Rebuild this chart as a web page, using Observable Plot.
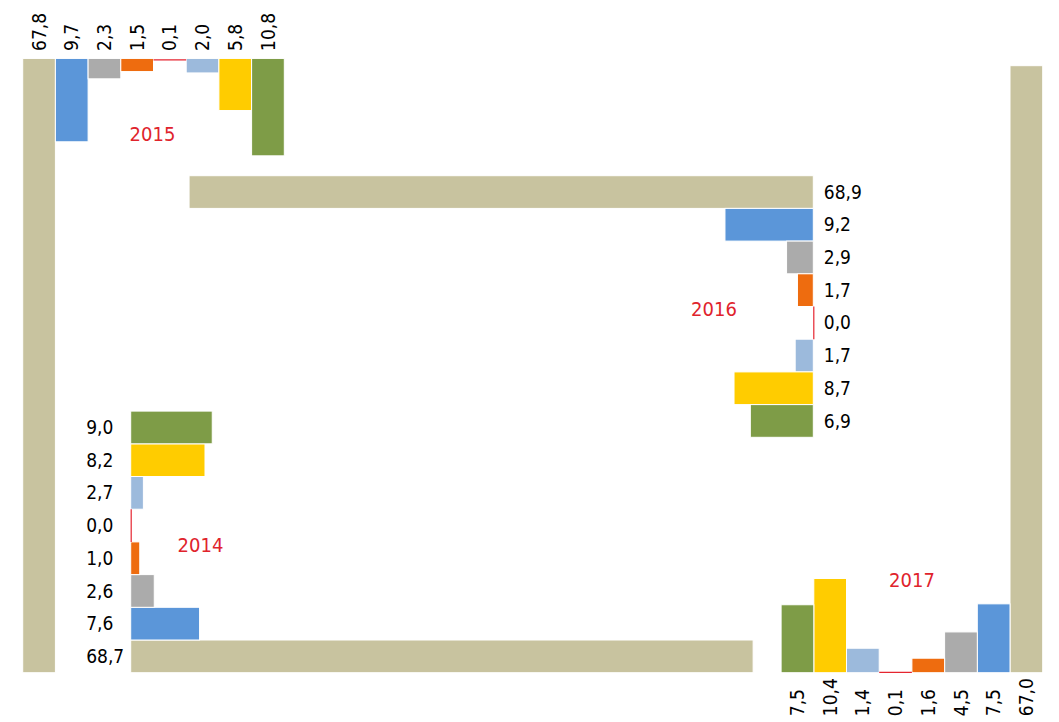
<!DOCTYPE html>
<html><head><meta charset="utf-8">
<script src="https://cdn.jsdelivr.net/npm/d3@7"></script>
<script src="https://cdn.jsdelivr.net/npm/@observablehq/plot@0.6"></script>
<style>html,body{margin:0;padding:0;background:#fff;} #chart svg{display:block}</style>
</head><body><div id="chart"></div>
<script>
// ---- data ----
const series = ["total","blue","gray","orange","red","lightblue","yellow","green"];
const colors = ["#C8C39F","#5B96D9","#ABABAB","#EE6C0F","#E52530","#9CBADC","#FFCC00","#7E9C47"];
const years = ["2014","2015","2016","2017"];
// bar lengths as drawn (percentage points)
const values2014 = [68.7, 7.6, 2.6, 1.0, 0.0, 1.4, 8.2, 9.0];
const values2015 = [67.8, 9.2, 2.25, 1.45, 0.1, 1.6, 5.75, 10.75];
const values2016 = [68.9, 9.75, 2.95, 1.75, 0.0, 2.0, 8.75, 6.95];
const values2017 = [67.0, 7.6, 4.5, 1.6, 0.1, 2.7, 10.4, 7.5];
// data labels as printed
const labels2014 = ["68,7","7,6","2,6","1,0","0,0","2,7","8,2","9,0"];
const labels2015 = ["67,8","9,7","2,3","1,5","0,1","2,0","5,8","10,8"];
const labels2016 = ["68,9","9,2","2,9","1,7","0,0","1,7","8,7","6,9"];
const labels2017 = ["67,0","7,5","4,5","1,6","0,1","1,4","10,4","7,5"];

// ---- layout ----
const W = 1059, H = 722;
const K = 9.06;          // px per percentage point
const STEP = 32.7;       // band step
const BASE_Y = 672.7, LEFT_X = 22.7, RIGHT_X = 1042.7;
const X2014 = 130.7, X2016 = 813.3, Y2016 = 175.7;
const RED = colors[4];
const FONT = "DejaVu Sans Condensed";

const bars = [], hRed = [], vRed = [], hLabels = [], vLabels = [];

function add(year, vals, labs) {
  vals.forEach((v, i) => {
    let x1, x2, y1, y2, lx, ly, rot;
    if (year === "2015") {
      const top = BASE_Y - vals[0] * K;
      x1 = LEFT_X + i * STEP; x2 = x1 + STEP;
      if (i === 0) { y1 = top; y2 = BASE_Y; } else { y1 = top; y2 = top + v * K; }
      lx = (x1 + x2) / 2; ly = top - 8; rot = true;
      if (series[i] === "red") hRed.push({x1, x2, y: y2});
    } else if (year === "2017") {
      x2 = RIGHT_X - i * STEP; x1 = x2 - STEP;
      y1 = BASE_Y - v * K; y2 = BASE_Y;
      lx = (x1 + x2) / 2; ly = BASE_Y + 43; rot = true;
      if (series[i] === "red") hRed.push({x1, x2, y: y1});
    } else if (year === "2014") {
      y2 = BASE_Y - i * STEP; y1 = y2 - STEP;
      x1 = X2014; x2 = X2014 + v * K;
      lx = X2014 - 45; ly = (y1 + y2) / 2; rot = false;
      if (series[i] === "red") vRed.push({x: x2, y1, y2});
    } else {
      y1 = Y2016 + i * STEP; y2 = y1 + STEP;
      x1 = X2016 - v * K; x2 = X2016;
      lx = X2016 + 10; ly = (y1 + y2) / 2; rot = false;
      if (series[i] === "red") vRed.push({x: x1, y1, y2});
    }
    if (series[i] !== "red") bars.push({year, series: series[i], color: colors[i], x1, x2, y1, y2});
    (rot ? vLabels : hLabels).push({x: lx, y: ly, text: labs[i]});
  });
}
add("2014", values2014, labels2014);
add("2015", values2015, labels2015);
add("2016", values2016, labels2016);
add("2017", values2017, labels2017);

const yearLabels = [
  {text: years[1], x: LEFT_X + 4 * STEP - 1.5, y: 134},
  {text: years[2], x: 713.5, y: 309},
  {text: years[0], x: 200, y: 545.5},
  {text: years[3], x: 911.5, y: 580}
];

const chart = Plot.plot({
  width: W, height: H, margin: 0,
  x: {type: "linear", domain: [0, W], range: [0, W], axis: null},
  y: {type: "linear", domain: [0, H], range: [0, H], axis: null},
  color: {type: "identity"},
  style: {fontFamily: FONT, background: "#fff"},
  marks: [
    Plot.rect(bars, {x1: "x1", x2: "x2", y1: "y1", y2: "y2", fill: "color", stroke: "white", strokeWidth: 1}),
    Plot.ruleY(hRed, {y: "y", x1: "x1", x2: "x2", stroke: RED, strokeWidth: 1.2}),
    Plot.ruleX(vRed, {x: "x", y1: "y1", y2: "y2", stroke: RED, strokeWidth: 1.2}),
    Plot.text(hLabels, {x: "x", y: "y", text: "text", textAnchor: "start", fontSize: 19, fontFamily: FONT, fill: "#000"}),
    Plot.text(vLabels, {x: "x", y: "y", text: "text", rotate: -90, textAnchor: "start", fontSize: 19, fontFamily: FONT, fill: "#000"}),
    Plot.text(yearLabels, {x: "x", y: "y", text: "text", textAnchor: "middle", fontSize: 20, fontFamily: FONT, fill: "#E0232C"})
  ]
});
document.getElementById("chart").appendChild(chart);
</script>
</body></html>
